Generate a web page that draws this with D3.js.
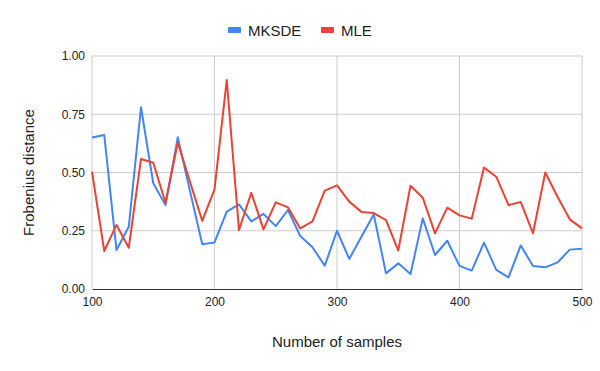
<!DOCTYPE html>
<html>
<head>
<meta charset="utf-8">
<script src="https://cdn.jsdelivr.net/npm/d3@7"></script>
<style>
  body { margin: 0; background: #fff; }
  text { font-family: "Liberation Sans", Arial, sans-serif; }
</style>
</head>
<body>
<div id="chart"></div>
<script>
// number of samples
var samples = [100,110,120,130,140,150,160,170,180,190,200,210,220,230,240,250,260,270,280,290,300,
  310,320,330,340,350,360,370,380,390,400,410,420,430,440,450,460,470,480,490,500];
var mksde = [0.65,0.661,0.167,0.267,0.78,0.454,0.36,0.651,0.42,0.192,0.2,0.332,0.363,0.29,0.322,0.27,0.339,0.227,0.179,0.1,0.25,
  0.129,0.225,0.32,0.067,0.11,0.064,0.303,0.146,0.207,0.099,0.079,0.199,0.082,0.05,0.187,0.099,0.093,0.114,0.169,0.173];
var mle = [0.504,0.163,0.275,0.177,0.558,0.542,0.37,0.628,0.46,0.292,0.428,0.897,0.253,0.413,0.256,0.372,0.35,0.26,0.29,0.422,0.445,
  0.375,0.33,0.326,0.296,0.165,0.443,0.392,0.239,0.349,0.316,0.302,0.521,0.482,0.36,0.373,0.239,0.5,0.396,0.299,0.26];
var seriesNames = ["MKSDE", "MLE"];
var xTicks = [100,200,300,400,500];
var yTicks = [0,0.25,0.5,0.75,1];

var width = 600, height = 371;
var margin = { top: 56, right: 18, bottom: 82, left: 92 };

var svg = d3.select("#chart").append("svg")
  .attr("width", width).attr("height", height);

var x = d3.scaleLinear().domain([100, 500]).range([margin.left, width - margin.right]);
var y = d3.scaleLinear().domain([0, 1]).range([height - margin.bottom, margin.top]);
var color = d3.scaleOrdinal().domain(seriesNames).range(["#4285f4", "#ea4335"]);

// gridlines
svg.append("g")
  .selectAll("line.h").data(yTicks.slice(1)).enter().append("line")
  .attr("x1", x(100)).attr("x2", x(500))
  .attr("y1", function (d) { return y(d); }).attr("y2", function (d) { return y(d); })
  .style("stroke", "#cccccc").style("stroke-width", 1);
svg.append("g")
  .selectAll("line.v").data(xTicks).enter().append("line")
  .attr("x1", function (d) { return x(d); }).attr("x2", function (d) { return x(d); })
  .attr("y1", y(0)).attr("y2", y(1))
  .style("stroke", "#cccccc").style("stroke-width", 1);

// x axis
var xAxis = svg.append("g")
  .attr("transform", "translate(0," + y(0) + ")")
  .call(d3.axisBottom(x).tickValues(xTicks).tickSize(0).tickPadding(6).tickFormat(d3.format("d")));
xAxis.select(".domain").style("stroke", "#333333");
xAxis.selectAll("text").style("font-size", "12px").style("fill", "#222").attr("dy", "0.9em");

// y axis
var yAxis = svg.append("g")
  .attr("transform", "translate(" + x(100) + ",0)")
  .call(d3.axisLeft(y).tickValues(yTicks).tickSize(0).tickPadding(7).tickFormat(d3.format(".2f")));
yAxis.select(".domain").remove();
yAxis.selectAll("text").style("font-size", "12px").style("fill", "#222");

// lines
var line = d3.line()
  .x(function (d) { return x(d[0]); })
  .y(function (d) { return y(d[1]); });

[mksde, mle].forEach(function (vals, k) {
  svg.append("path")
    .datum(samples.map(function (s, i) { return [s, vals[i]]; }))
    .attr("d", line)
    .style("fill", "none")
    .style("stroke", color(seriesNames[k]))
    .style("stroke-width", 2)
    .style("stroke-linejoin", "round");
});

// axis titles
svg.append("text")
  .attr("x", (x(100) + x(500)) / 2).attr("y", 347)
  .style("text-anchor", "middle").style("font-size", "15px").style("fill", "#222")
  .text("Number of samples");
svg.append("text")
  .attr("transform", "translate(34," + (y(0) + y(1)) / 2 + ") rotate(-90)")
  .style("text-anchor", "middle").style("font-size", "15px").style("fill", "#222")
  .text("Frobenius distance");

// legend
var legendX = [228, 321];
var legend = svg.selectAll("g.legend").data(seriesNames).enter().append("g")
  .attr("transform", function (d, i) { return "translate(" + legendX[i] + ",30)"; });
legend.append("rect")
  .attr("x", 0).attr("y", -3).attr("width", 13).attr("height", 6).attr("rx", 1)
  .style("fill", function (d) { return color(d); });
legend.append("text")
  .attr("x", 20).attr("y", 5.5)
  .style("font-size", "15px").style("fill", "#222")
  .text(function (d) { return d; });
</script>
</body>
</html>
